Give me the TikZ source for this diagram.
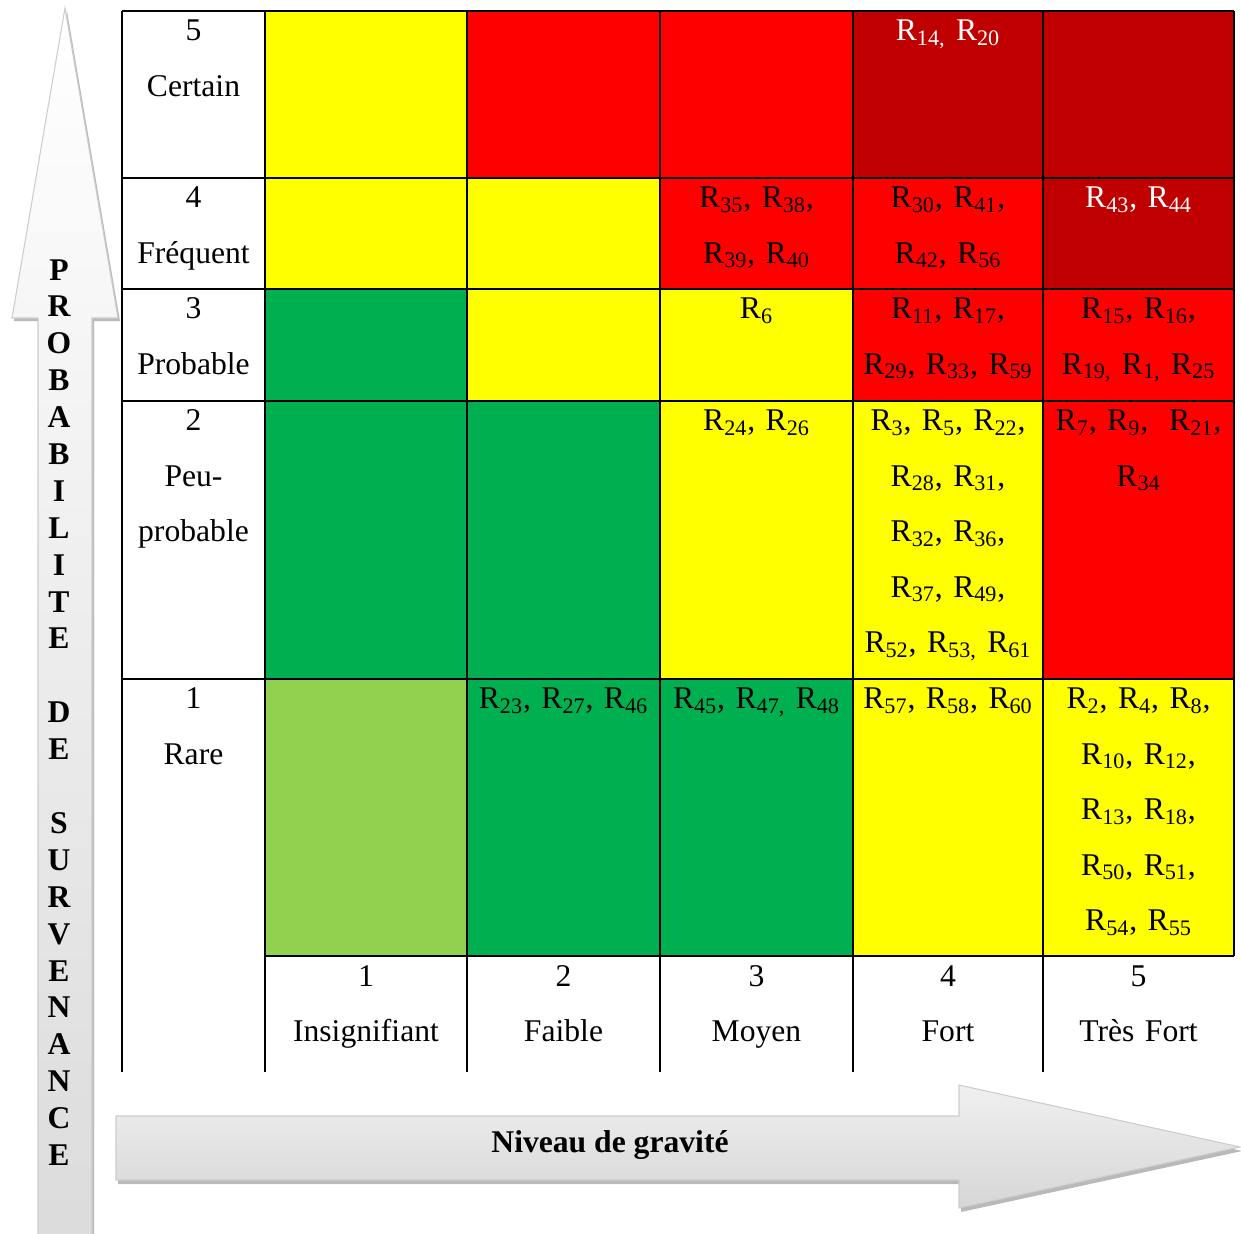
\documentclass[tikz,border=0pt]{standalone}
\usepackage{fontspec}
\setmainfont{Liberation Serif}
\usepackage{tikz}

\definecolor{jaune}{HTML}{FFFF00}
\definecolor{rouge}{HTML}{FF0000}
\definecolor{bordeaux}{HTML}{C00000}
\definecolor{vert}{HTML}{00B050}
\definecolor{vertclair}{HTML}{92D050}
\newcommand{\rk}[1]{R\textsubscript{#1}}

\begin{document}
\begin{tikzpicture}[x=0.02cm,y=-0.02cm,
    grille/.style={line width=1.4pt,black},
    ombre/.style={fill=gray!55},
    corpsv/.style={draw=gray!40,line width=0.6pt,top color=white,bottom color=gray!28},
    corpsh/.style={draw=gray!40,line width=0.6pt,top color=gray!12,bottom color=gray!32},
    txt/.style={font=\fontsize{18}{31.6}\selectfont,align=center,anchor=base,inner sep=0pt,text width=3.6cm},
    blanc/.style={txt,text=white},
    titre/.style={font=\bfseries\fontsize{18}{21}\selectfont,align=center,anchor=base,inner sep=0pt}]
      \useasboundingbox (0,0) rectangle (1241,1234);
      % couleurs des cases
      \foreach \yh/\yb/\ca/\cb/\cc/\cd/\ce in {
          11/178/jaune/rouge/rouge/bordeaux/bordeaux,
          178/289/jaune/jaune/rouge/rouge/bordeaux,
          289/401/vert/jaune/jaune/rouge/rouge,
          401/679/vert/vert/jaune/jaune/rouge,
          679/956/vertclair/vert/vert/jaune/jaune}
      {
        \fill[\ca] (265,\yh) rectangle (467,\yb);
        \fill[\cb] (467,\yh) rectangle (660,\yb);
        \fill[\cc] (660,\yh) rectangle (853,\yb);
        \fill[\cd] (853,\yh) rectangle (1043,\yb);
        \fill[\ce] (1043,\yh) rectangle (1234,\yb);
      }
      % grille
      \foreach \yy in {11,178,289,401,679} \draw[grille] (122,\yy) -- (1234,\yy);
      \draw[grille] (265,956) -- (1234,956);
      \foreach \xx in {122,265,467,660,853,1043} \draw[grille] (\xx,11) -- (\xx,1072);
      \draw[grille] (1234,11) -- (1234,956);
      % fleches
      \foreach \dx/\dy/\sty in {2/3/ombre,0/0/corpsv}
        \path[\sty,shift={(\dx,\dy)}] (38,1240) -- (38,318) -- (12,318) -- (65,8) -- (118,318) -- (92,318) -- (92,1240) -- cycle;
      \foreach \dx/\dy/\sty in {2/4/ombre,0/0/corpsh}
        \path[\sty,shift={(\dx,\dy)}] (116,1116) -- (959,1116) -- (959,1085) -- (1240,1147) -- (959,1208) -- (959,1180) -- (116,1180) -- cycle;
      \node[titre,text width=1cm] (proba) at (59,280) {P\\R\\O\\B\\A\\B\\I\\L\\I\\T\\E\\[21pt]D\\E\\[21pt]S\\U\\R\\V\\E\\N\\A\\N\\C\\E};
      \node[titre] (grav) at (610,1152) {Niveau de gravité};
      % probabilite
      \node[txt] (p5) at (193.5,40.5) {5\\Certain};
      \node[txt] (p4) at (193.5,207.5) {4\\Fréquent};
      \node[txt] (p3) at (193.5,318.5) {3\\Probable};
      \node[txt] (p2) at (193.5,430.5) {2\\Peu-\\probable};
      \node[txt] (p1) at (193.5,708.5) {1\\Rare};
      % gravite
      \node[txt] (g1) at (366,986) {1\\Insignifiant};
      \node[txt] (g2) at (563.5,986) {2\\Faible};
      \node[txt] (g3) at (756.5,986) {3\\Moyen};
      \node[txt] (g4) at (948,986) {4\\Fort};
      \node[txt] (g5) at (1138.5,986) {5\\Très Fort};
      % risques
      \node[blanc] (r54) at (948,40.5) {\rk{14,} \rk{20}};
      \node[txt] (r43) at (756.5,207.5) {\rk{35}, \rk{38},\\\rk{39}, \rk{40}};
      \node[txt] (r44) at (948,207.5) {\rk{30}, \rk{41},\\\rk{42}, \rk{56}};
      \node[blanc] (r45) at (1138.5,207.5) {\rk{43}, \rk{44}};
      \node[txt] (r33) at (756.5,318.5) {\rk{6}};
      \node[txt] (r34) at (948,318.5) {\rk{11}, \rk{17},\\\rk{29}, \rk{33}, \rk{59}};
      \node[txt] (r35) at (1138.5,318.5) {\rk{15}, \rk{16},\\\rk{19,} \rk{1,} \rk{25}};
      \node[txt] (r23) at (756.5,430.5) {\rk{24}, \rk{26}};
      \node[txt] (r24) at (948,430.5) {\rk{3}, \rk{5}, \rk{22},\\\rk{28}, \rk{31},\\\rk{32}, \rk{36},\\\rk{37}, \rk{49},\\\rk{52}, \rk{53,} \rk{61}};
      \node[txt] (r25) at (1138.5,430.5) {\rk{7}, \rk{9}, ~\rk{21},\\\rk{34}};
      \node[txt] (r12) at (563.5,708.5) {\rk{23}, \rk{27}, \rk{46}};
      \node[txt] (r13) at (756.5,708.5) {\rk{45}, \rk{47,} \rk{48}};
      \node[txt] (r14) at (948,708.5) {\rk{57}, \rk{58}, \rk{60}};
      \node[txt] (r15) at (1138.5,708.5) {\rk{2}, \rk{4}, \rk{8},\\\rk{10}, \rk{12},\\\rk{13}, \rk{18},\\\rk{50}, \rk{51},\\\rk{54}, \rk{55}};
\end{tikzpicture}
\end{document}
